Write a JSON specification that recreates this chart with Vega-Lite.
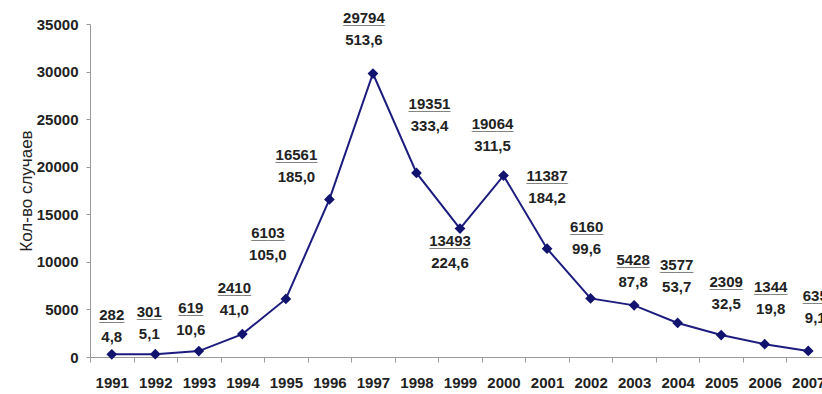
{
  "$schema": "https://vega.github.io/schema/vega-lite/v6.json",
  "autosize": {"type": "none"},
  "padding": {"left": 90, "top": 24, "right": 0, "bottom": 37},
  "width": 732,
  "height": 333,
  "background": "white",
  "config": {
    "view": {"stroke": null},
    "locale": {"number": {"decimal": ",", "thousands": "", "grouping": [3], "currency": ["", ""]}},
    "font": "Liberation Sans"
  },
  "data": {
    "values": [
      {"year": 1991, "count": 282, "rate": 4.8},
      {"year": 1992, "count": 301, "rate": 5.1},
      {"year": 1993, "count": 619, "rate": 10.6},
      {"year": 1994, "count": 2410, "rate": 41.0},
      {"year": 1995, "count": 6103, "rate": 105.0},
      {"year": 1996, "count": 16561, "rate": 185.0},
      {"year": 1997, "count": 29794, "rate": 513.6},
      {"year": 1998, "count": 19351, "rate": 333.4},
      {"year": 1999, "count": 13493, "rate": 224.6},
      {"year": 2000, "count": 19064, "rate": 311.5},
      {"year": 2001, "count": 11387, "rate": 184.2},
      {"year": 2002, "count": 6160, "rate": 99.6},
      {"year": 2003, "count": 5428, "rate": 87.8},
      {"year": 2004, "count": 3577, "rate": 53.7},
      {"year": 2005, "count": 2309, "rate": 32.5},
      {"year": 2006, "count": 1344, "rate": 19.8},
      {"year": 2007, "count": 635, "rate": 9.1}
    ]
  },
  "encoding": {
    "x": {
      "field": "year",
      "type": "ordinal",
      "scale": {"type": "band", "range": [0, 740], "paddingInner": 0, "paddingOuter": 0},
      "axis": {
        "title": null,
        "labelAngle": 0,
        "labelFont": "Liberation Sans",
        "labelFontWeight": "bold",
        "labelFontSize": 15,
        "labelColor": "#222222",
        "labelPadding": 13,
        "tickBand": "extent",
        "tickSize": 5,
        "tickColor": "#9a9a9a",
        "domainColor": "#9a9a9a",
        "labelBound": false,
        "labelOverlap": false
      }
    },
    "y": {
      "field": "count",
      "type": "quantitative",
      "scale": {"domain": [0, 35000], "nice": false},
      "axis": {
        "title": "Кол-во случаев",
        "titleFont": "Liberation Sans",
        "titleFontWeight": "normal",
        "titleFontSize": 17,
        "titleColor": "#222222",
        "titlePadding": 1,
        "values": [0, 5000, 10000, 15000, 20000, 25000, 30000, 35000],
        "format": "d",
        "grid": false,
        "labelFont": "Liberation Sans",
        "labelFontWeight": "bold",
        "labelFontSize": 15,
        "labelColor": "#222222",
        "labelPadding": 8,
        "tickSize": 4,
        "tickColor": "#9a9a9a",
        "domainColor": "#9a9a9a"
      }
    }
  },
  "layer": [
    {
      "mark": {"type": "line", "color": "#1c1c7e", "strokeWidth": 2}
    },
    {
      "mark": {"type": "point", "shape": "diamond", "filled": true, "size": 115, "color": "#12126f", "opacity": 1}
    },
    {
      "mark": {
        "type": "text",
        "font": "Liberation Sans",
        "fontWeight": "bold",
        "fontSize": 15,
        "align": "center",
        "baseline": "alphabetic",
        "color": "#222222",
        "dx": {"expr": "[0,-6,-8,-8,-18,-33,-9,13,-10,-11,0,-4,-1,-1,5,6,7][datum.year-1991]"},
        "dy": {"expr": "[-39,-42,-43,-46,-66,-44,-56,-69,12,-52,-73,-71,-45,-58,-53,-57,-55][datum.year-1991] + 5"}
      },
      "encoding": {"text": {"field": "count", "type": "quantitative", "format": "d"}}
    },
    {
      "mark": {
        "type": "text",
        "font": "Liberation Sans",
        "fontWeight": "bold",
        "fontSize": 15,
        "align": "center",
        "baseline": "alphabetic",
        "color": "#222222",
        "dx": {"expr": "[0,-6,-8,-8,-18,-33,-9,13,-10,-11,0,-4,-1,-1,5,6,7][datum.year-1991]"},
        "dy": {"expr": "[-39,-42,-43,-46,-66,-44,-56,-69,12,-52,-73,-71,-45,-58,-53,-57,-55][datum.year-1991] + 6"}
      },
      "encoding": {
        "text": {
          "condition": [
            {"test": "datum.count < 1000", "value": "___"},
            {"test": "datum.count < 10000", "value": "____"}
          ],
          "value": "_____"
        }
      }
    },
    {
      "mark": {
        "type": "text",
        "font": "Liberation Sans",
        "fontWeight": "bold",
        "fontSize": 15,
        "align": "center",
        "baseline": "alphabetic",
        "color": "#222222",
        "dx": {"expr": "[0,-6,-8,-8,-18,-33,-9,13,-10,-11,0,-4,-1,-1,5,6,7][datum.year-1991]"},
        "dy": {"expr": "[-39,-42,-43,-46,-66,-44,-56,-69,12,-52,-73,-71,-45,-58,-53,-57,-55][datum.year-1991] + 27"}
      },
      "encoding": {"text": {"field": "rate", "type": "quantitative", "format": ".1f"}}
    }
  ]
}
